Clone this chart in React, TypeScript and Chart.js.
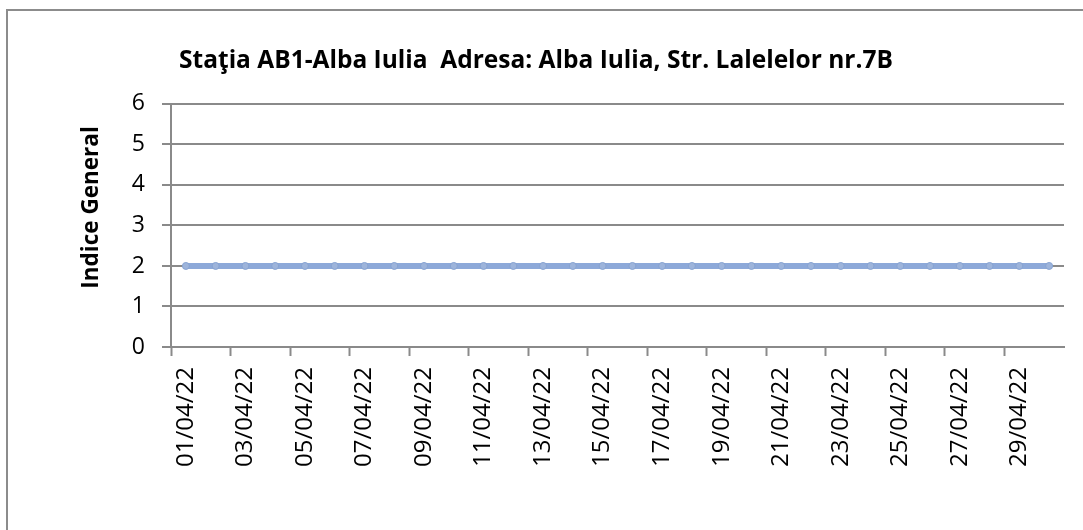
import React, { useEffect, useRef } from "react";
import { Chart, registerables } from "chart.js";

Chart.register(...registerables);

const categories = [
  "01/04/22", "02/04/22", "03/04/22", "04/04/22", "05/04/22", "06/04/22",
  "07/04/22", "08/04/22", "09/04/22", "10/04/22", "11/04/22", "12/04/22",
  "13/04/22", "14/04/22", "15/04/22", "16/04/22", "17/04/22", "18/04/22",
  "19/04/22", "20/04/22", "21/04/22", "22/04/22", "23/04/22", "24/04/22",
  "25/04/22", "26/04/22", "27/04/22", "28/04/22", "29/04/22", "30/04/22",
];

const indiceGeneral = [
  2, 2, 2, 2, 2, 2, 2, 2, 2, 2,
  2, 2, 2, 2, 2, 2, 2, 2, 2, 2,
  2, 2, 2, 2, 2, 2, 2, 2, 2, 2,
];

const yMin = 0;
const yMax = 6;
const yStep = 1;

const titleText = "Staţia AB1-Alba Iulia  Adresa: Alba Iulia, Str. Lalelelor nr.7B";
const yAxisTitle = "Indice General";

const FONT = "'Open Sans', 'Noto Sans', sans-serif";
const GRID = "#8a8a8a";
const LINE = "#8DA9D9";

const yTitlePlugin = {
  id: "yTitle",
  afterDraw(chart: any) {
    const { ctx, chartArea } = chart;
    ctx.save();
    ctx.font = `bold 22.5px ${FONT}`;
    ctx.fillStyle = "#000";
    ctx.textAlign = "center";
    ctx.textBaseline = "middle";
    ctx.translate(84, (chartArea.top + chartArea.bottom) / 2 - 18);
    ctx.rotate(-Math.PI / 2);
    ctx.fillText(yAxisTitle, 0, 0);
    ctx.restore();
  },
};

export default function App() {
  const ref = useRef<HTMLCanvasElement>(null);

  useEffect(() => {
    const chart = new Chart(ref.current as HTMLCanvasElement, {
      type: "line",
      data: {
        labels: categories,
        datasets: [
          {
            label: yAxisTitle,
            data: indiceGeneral,
            borderColor: LINE,
            borderWidth: 6,
            pointRadius: 3.5,
            pointBackgroundColor: "#9DB4DB",
            pointBorderColor: "#87A3D2",
            pointBorderWidth: 1,
            tension: 0,
          },
        ],
      },
      plugins: [yTitlePlugin],
      options: {
        responsive: false,
        animation: false,
        layout: { padding: { left: 0, right: 19, top: 0, bottom: 0 } },
        plugins: {
          legend: { display: false },
          tooltip: { enabled: false },
          title: {
            display: true,
            text: titleText,
            color: "#000",
            font: { family: FONT, size: 24.5, weight: "bold" },
            padding: { top: 35, bottom: 28.5 },
          },
        },
        scales: {
          x: {
            type: "category",
            offset: true,
            grid: {
              display: true,
              offset: true,
              drawOnChartArea: false,
              drawTicks: true,
              tickLength: 9,
              tickWidth: 2,
              tickColor: (ctx: any) => (ctx.index % 2 === 0 ? GRID : "rgba(0,0,0,0)"),
            },
            border: { color: GRID, width: 2 },
            ticks: {
              autoSkip: false,
              minRotation: 90,
              maxRotation: 90,
              padding: 11,
              color: "#000",
              font: { family: FONT, size: 24 },
              callback: (_v: any, i: number) => (i % 2 === 0 ? categories[i] : ""),
            },
            afterFit: (s: any) => {
              s.height = 183;
              s.paddingLeft = 0;
              s.paddingRight = 0;
            },
          },
          y: {
            min: yMin,
            max: yMax,
            ticks: {
              stepSize: yStep,
              padding: 17,
              color: "#000",
              font: { family: FONT, size: 23 },
            },
            grid: { color: GRID, lineWidth: 2, tickLength: 9 },
            border: { color: GRID, width: 2 },
            afterFit: (s: any) => {
              s.width = 163;
            },
          },
        },
      },
    } as any);
    return () => chart.destroy();
  }, []);

  return (
    <div
      style={{
        position: "absolute",
        left: 0,
        top: 0,
        width: 1083,
        height: 530,
        overflow: "hidden",
        background: "#fff",
      }}
    >
      <div
        style={{
          position: "absolute",
          left: 6,
          top: 9,
          width: 1120,
          height: 580,
          border: "2px solid #8c8c8c",
          boxSizing: "border-box",
        }}
      />
      <canvas
        ref={ref}
        width={1075}
        height={519}
        style={{ position: "absolute", left: 8, top: 11, width: 1075, height: 519 }}
      />
    </div>
  );
}
